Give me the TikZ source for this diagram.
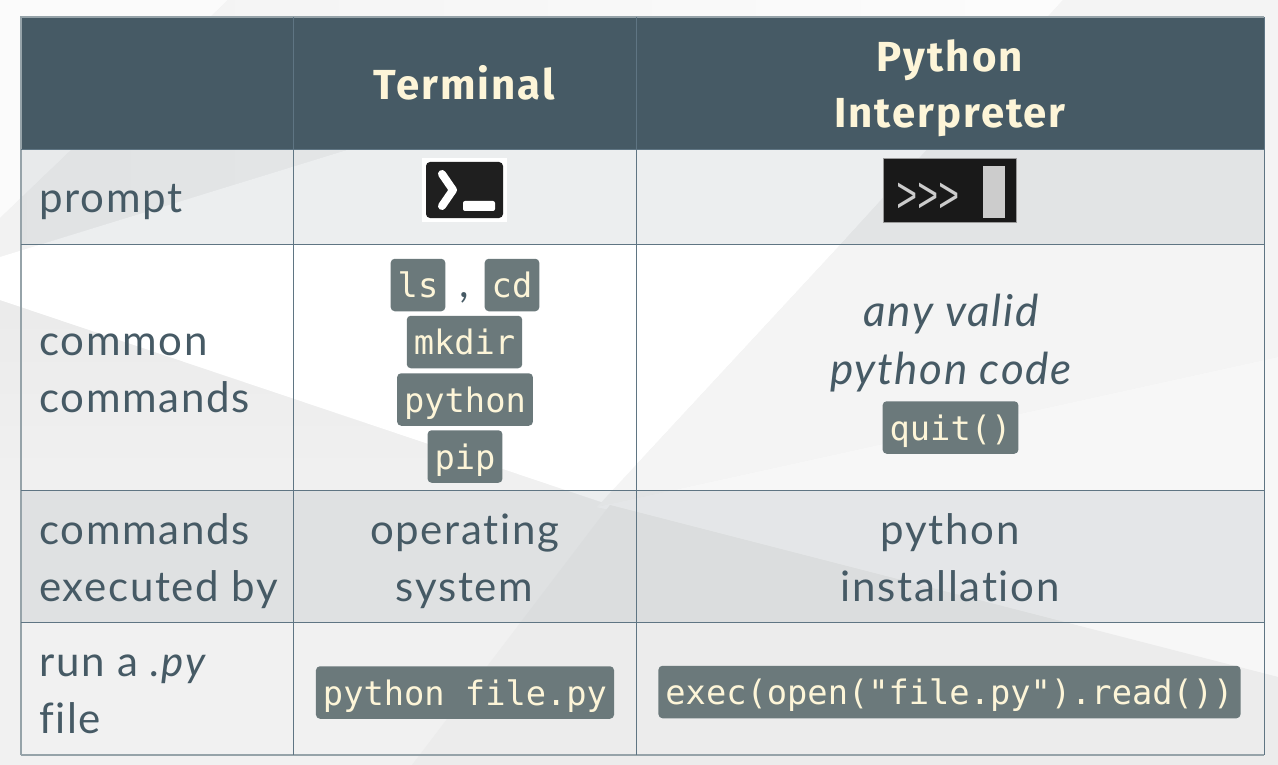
\documentclass[tikz,border=0pt]{standalone}
\usepackage{fontspec}
\setmainfont{Lato}[LetterSpace=4, Ligatures=NoCommon]
\setmonofont{DejaVu Sans Mono}
\newfontfamily\headfont{Fira Sans}[LetterSpace=4.8]
\newfontfamily\promptfont{Liberation Mono}
\usetikzlibrary{arrows.meta, positioning}
\definecolor{slate}{HTML}{465A65}
\definecolor{rule}{HTML}{5F7583}
\definecolor{ruleout}{HTML}{96A3A9}
\definecolor{cream}{HTML}{FDF5D8}
\definecolor{chipgray}{HTML}{6B797B}
\tikzset{
  headcell/.style = {align=center, text=cream, inner sep=0pt,
                     font=\headfont\bfseries\fontsize{42}{56}\selectfont},
  cell/.style     = {align=center, text=slate, inner sep=0pt,
                     font=\fontsize{42}{57}\selectfont},
  rowlabel/.style = {cell, align=left, anchor=base west},
  codechip/.style = {rectangle, rounded corners=4pt, fill=chipgray, text=cream,
                     font=\ttfamily\fontsize{33.7}{40}\selectfont,
                     inner xsep=7pt, inner ysep=0pt,
                     text height=39pt, text depth=13.5pt},
  gridline/.style = {draw=rule, line width=1pt},
  outerline/.style= {draw=ruleout, line width=1.6pt},
  rowshade/.style = {fill=slate, fill opacity=0.1},
}
\begin{document}
\begin{tikzpicture}[x=1pt, y=-1pt]
  \useasboundingbox (0,0) rectangle (1278,765);
  \fill[black!5.5] (0,0) rectangle (1278,765);
  \shade[top color=black!8, bottom color=black!5.5]
    (0,300) -- (610,505) -- (0,505) -- cycle;
  \fill[black!1.5] (0,0) -- (228,0) -- (0,218) -- cycle;
  \shade[left color=black!5, right color=black!1]
    (228,0) -- (1063,0) -- (927,150) -- (347,150) -- (0,257) -- (0,218) -- cycle;
  \fill[white] (0,257) -- (347,150) -- (927,150) -- (841,244) -- (636,465)
    -- (610,505) -- (0,300) -- cycle;
  \fill[black!4.5] (1063,0) -- (1278,0) -- (1278,357) -- (597,507) -- (636,465)
    -- (841,244) -- cycle;
  \fill[black!3] (597,507) -- (1278,357) -- (1278,677) -- cycle;
  \fill[black!7.5] (610,505) -- (1278,677) -- (1278,765) -- (412,765) -- cycle;

  \fill[rowshade] (21,150) rectangle (1264,244);
  \fill[rowshade] (21,490) rectangle (1264,622);
  \fill[slate] (21,17) rectangle (1264,150);

  \draw[outerline] (21,755) -- (21,17) -- (1264,17);
  \draw[outerline] (21,755) -- (1264,755);
  \foreach \rowy in {150,244,490,622}
    \draw[gridline] (21,\rowy) -- (1264,\rowy);
  \foreach \colx in {293,636,1264}
    \draw[gridline] (\colx,17) -- (\colx,755);

  \node[headcell, anchor=base] (termhead) at (464.5,100) {Terminal};
  \node[headcell, anchor=base] (pyhead) at (950,128) {Python\\Interpreter};

  \node[rowlabel] (promptlbl) at (39,213) {prompt};
  \node[rowlabel] (commonlbl) at (39,412) {common\\commands};
  \node[rowlabel] (execlbl) at (39,601) {commands\\executed by};
  \node[rowlabel] (runlbl) at (39,733) {run a \textit{.py}\\file};

  \fill[white] (422,158) rectangle (507,222);
  \fill[black!88, rounded corners=4pt] (426,162) rectangle (503,218);
  \draw[white, line width=8pt, line cap=round, line join=round]
    (442,174) -- (453,190) -- (442,206);
  \fill[white, rounded corners=2pt] (463,201) rectangle (495,211);

  \draw[fill=black!90, draw=black!40] (883,158) rectangle (1016,222);
  \node[inner sep=0pt, anchor=base west, text=black!20,
        font=\promptfont\fontsize{37.4}{37}\selectfont] (pyprompt) at (896,212)
        {\scalebox{0.95}[1.35]{>>>}};
  \fill[black!20] (983,166) rectangle (1005,218);

  \node[codechip] (lschip) at (418,285) {ls};
  \node[cell, anchor=base] (comma) at (464.5,297) {,};
  \node[codechip] (cdchip) at (512,285) {cd};
  \node[codechip] (mkdirchip) at (464.5,342) {mkdir};
  \node[codechip] (pythonchip) at (465,399.5) {python};
  \node[codechip] (pipchip) at (465,456.5) {pip};

  \node[cell, anchor=base, font=\itshape\fontsize{44}{58}\selectfont] (anyvalid)
    at (951,384) {any valid\\python code};
  \node[codechip] (quitchip) at (950.5,427.5) {quit()};

  \node[cell, anchor=base] (oscell) at (464.5,601) {operating\\system};
  \node[cell, anchor=base] (pycell) at (950,601) {python\\installation};

  \node[codechip] (runterm) at (465,692.5) {python file.py};
  \node[codechip] (runpy) at (949.5,692) {exec(open("file.py").read())};
\end{tikzpicture}
\end{document}
